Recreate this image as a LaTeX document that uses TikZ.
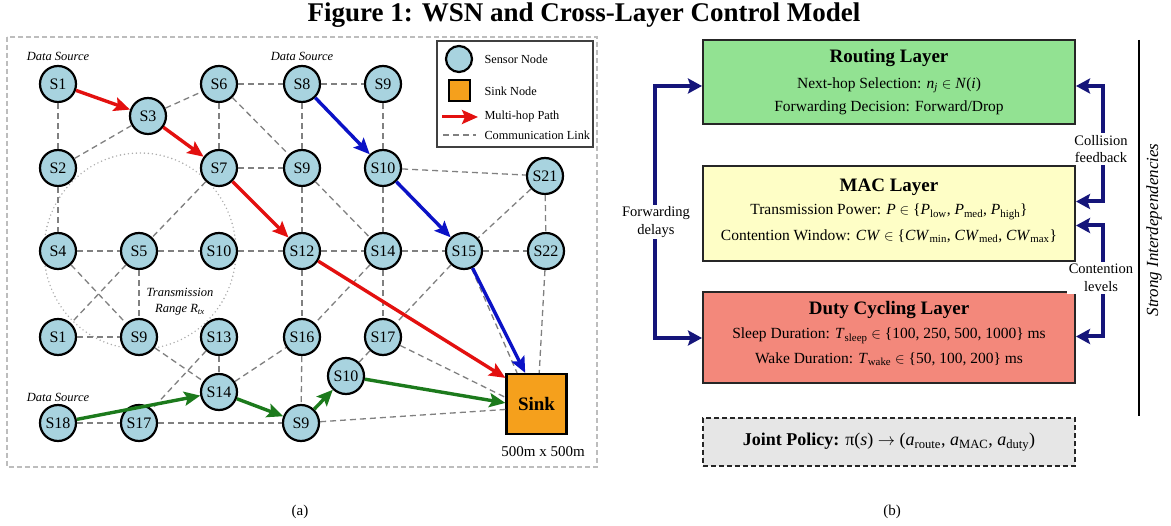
\documentclass[tikz,border=0pt]{standalone}
\usepackage{fontspec}
\setmainfont{Liberation Serif}
\usetikzlibrary{arrows.meta,calc}

\definecolor{sensorblue}{HTML}{A8D3DF}
\definecolor{sinkorange}{HTML}{F5A01C}
\definecolor{linkgray}{HTML}{808080}
\definecolor{pathred}{HTML}{E3100F}
\definecolor{pathblue}{HTML}{0B12C6}
\definecolor{pathgreen}{HTML}{1C7A1C}
\definecolor{routegreen}{HTML}{92E292}
\definecolor{macyellow}{HTML}{FEFEC6}
\definecolor{dutysalmon}{HTML}{F3887B}
\definecolor{policygray}{HTML}{E6E6E6}
\definecolor{feedbacknavy}{HTML}{15157A}
\definecolor{framegray}{HTML}{BDBDBD}
\definecolor{rangegray}{HTML}{ABABAB}

\newcommand{\fsz}[2]{\fontsize{#1}{#2}\selectfont}
\newcommand{\sbs}[1]{\textsubscript{#1}}

\tikzset{
  sensor/.style={circle, draw=black, line width=2.2pt, fill=sensorblue,
    minimum size=36pt, inner sep=0pt, font=\fsz{16}{18}},
  sinkbox/.style={rectangle, draw=black, line width=2.2pt, fill=sinkorange,
    minimum size=60pt, inner sep=0pt, font=\fsz{19}{22}\bfseries},
  link/.style={draw=linkgray, line width=1.3pt, dash pattern=on 6pt off 4pt},
  hop/.style={line width=3.4pt, -{Stealth[length=16pt,width=14pt,inset=3pt]}},
  redhop/.style={hop, draw=pathred, fill=pathred},
  bluehop/.style={hop, draw=pathblue, fill=pathblue},
  greenhop/.style={hop, draw=pathgreen, fill=pathgreen},
  srclabel/.style={font=\fsz{12.5}{14}\itshape},
  layerbox/.style={rectangle, draw=black!85, line width=2pt,
    minimum width=372pt, inner sep=0pt},
  layertitle/.style={font=\fsz{19}{22}\bfseries},
  layertext/.style={font=\fsz{15.5}{18}},
  feedback/.style={draw=feedbacknavy, line width=4pt,
    {Stealth[length=14pt,width=15pt,inset=2.5pt]}-{Stealth[length=14pt,width=15pt,inset=2.5pt]}},
  fblabel/.style={fill=white, align=center, inner sep=2pt, font=\fsz{14.5}{17.5}},
  legendtext/.style={anchor=west, font=\fsz{12.3}{14}},
}

\begin{document}
\begin{tikzpicture}[x=1pt, y=-1pt]
\useasboundingbox (0,0) rectangle (1171,526);
\fill[white] (0,0) rectangle (1171,526);

% heading
\node[font=\fsz{27}{31}\bfseries] (heading) at (584,15) {Figure 1: WSN and Cross-Layer Control Model};

% ---------------- (a) network ----------------
\draw[framegray, line width=1.2pt, dash pattern=on 5pt off 3pt] (7,37) rectangle (597,467);

% transmission range of S5
\draw[rangegray, line width=1.6pt, line cap=round, dash pattern=on 0pt off 4pt]
  (140,251) ellipse [x radius=96pt, y radius=98pt];
\node[font=\fsz{12.5}{16}\itshape, align=center] (range) at (180,302)
  {Transmission\\Range \textit{R}\textsubscript{tx}};

% sensor nodes
\node[sensor] (s1)  at (58,84)   {S1};
\node[sensor] (s3)  at (148,116) {S3};
\node[sensor] (s6)  at (219,84)  {S6};
\node[sensor] (s8)  at (302,84)  {S8};
\node[sensor] (s9a) at (383,84)  {S9};
\node[sensor] (s2)  at (58,168)  {S2};
\node[sensor] (s7)  at (219,168) {S7};
\node[sensor] (s9b) at (302,168) {S9};
\node[sensor] (s10a) at (383,168) {S10};
\node[sensor] (s21) at (545,176) {S21};
\node[sensor] (s4)  at (58,251)  {S4};
\node[sensor] (s5)  at (139,251) {S5};
\node[sensor] (s10b) at (219,251) {S10};
\node[sensor] (s12) at (302,251) {S12};
\node[sensor] (s14a) at (383,251) {S14};
\node[sensor] (s15) at (464,251) {S15};
\node[sensor] (s22) at (546,251) {S22};
\node[sensor] (s1b) at (58,337)  {S1};
\node[sensor] (s9c) at (139,337) {S9};
\node[sensor] (s13) at (219,337) {S13};
\node[sensor] (s16) at (302,337) {S16};
\node[sensor] (s17a) at (383,337) {S17};
\node[sensor] (s14b) at (219,392) {S14};
\node[sensor] (s10c) at (346,376) {S10};
\node[sensor] (s18) at (58,423)  {S18};
\node[sensor] (s17b) at (139,423) {S17};
\node[sensor] (s9d) at (301,423) {S9};
\node[sinkbox] (sink) at (536.5,404) {Sink};

\node[srclabel] (src1) at (58,56)  {Data Source};
\node[srclabel] (src2) at (302,56) {Data Source};
\node[srclabel] (src3) at (58,397) {Data Source};
\node[font=\fsz{15}{18}] (area) at (543,452) {500m x 500m};

% communication links
\foreach \a/\b in {s1/s2, s2/s3, s3/s6, s6/s8, s6/s7, s6/s9b, s8/s9a, s8/s9b,
    s9a/s10a, s10a/s21, s7/s9b, s2/s4, s7/s5, s9b/s12, s9b/s14a, s10a/s14a,
    s21/s15, s21/s22, s4/s5, s5/s10b, s10b/s12, s12/s14a, s14a/s15, s15/s22,
    s4/s9c, s5/s1b, s5/s9c, s12/s16, s14a/s16, s14a/s17a, s15/s17a,
    s1b/s9c, s9c/s14b, s13/s14b, s13/s17b, s14b/s16, s16/s9d, s17a/s10c,
    s18/s17b, s17b/s9d}
  \draw[link] (\a) -- (\b);
\draw[link] (s15) -- (sink.122);
\draw[link] (s22) -- (sink.85);
\draw[link] (s17a) -- (sink.168);
\draw[link] (s9d) -- (sink.190);

% multi-hop paths
\draw[redhop] (s1) -- (s3);
\draw[redhop] (s3) -- (s7);
\draw[redhop] (s7) -- (s12);
\draw[redhop] (s12) -- (sink.140);
\draw[bluehop] (s8) -- (s10a);
\draw[bluehop] (s10a) -- (s15);
\draw[bluehop] (s15) -- (sink.110);
\draw[greenhop] (s18) -- (s14b);
\draw[greenhop] (s14b) -- (s9d);
\draw[greenhop] (s9d) -- (s10c);
\draw[greenhop] (s10c) -- (sink.178);

% legend
\draw[black!75, line width=1.2pt, fill=white] (437,41) rectangle (593,147);
\node[sensor, minimum size=26pt] (lgsensor) at (459,59) {};
\node[legendtext] (lgsensortext) at (481,59) {Sensor Node};
\node[draw=black, line width=2pt, fill=sinkorange, minimum size=21pt, inner sep=0pt] (lgsink) at (459,91) {};
\node[legendtext] (lgsinktext) at (481,91) {Sink Node};
\coordinate (lgpathA) at (442,117);
\coordinate (lgpathB) at (478,117);
\draw[redhop, line width=3pt] (lgpathA) -- (lgpathB);
\node[legendtext] (lgpathtext) at (481,117) {Multi-hop Path};
\coordinate (lglinkA) at (443,135);
\coordinate (lglinkB) at (476,135);
\draw[link] (lglinkA) -- (lglinkB);
\node[legendtext] (lglinktext) at (481,135) {Communication Link};

\node[font=\fsz{15}{18}] (capa) at (300,512) {(a)};

% ---------------- (b) cross-layer model ----------------
\node[layerbox, fill=routegreen, minimum height=84pt] (routing) at (889,82) {};
\node[layertitle] (routingtitle) at (889,58) {Routing Layer};
\node[layertext] (routingA) at (889,85) {Next-hop Selection: \textit{n}\textsubscript{\textit{j}} $\in$ \textit{N}(\textit{i})};
\node[layertext] (routingB) at (889,108) {Forwarding Decision: Forward/Drop};

\node[layerbox, fill=macyellow, minimum height=95pt] (mac) at (889,213.5) {};
\node[layertitle] (mactitle) at (889,187) {MAC Layer};
\node[layertext] (macA) at (889,212) {Transmission Power: \textit{P} $\in$ \{\textit{P}\sbs{low}, \textit{P}\sbs{med}, \textit{P}\sbs{high}\}};
\node[layertext] (macB) at (889,236) {Contention Window: \textit{CW} $\in$ \{\textit{CW}\sbs{min}, \textit{CW}\sbs{med}, \textit{CW}\sbs{max}\}};

\node[layerbox, fill=dutysalmon, minimum height=91pt] (duty) at (889,337.5) {};
\node[layertitle] (dutytitle) at (889,310) {Duty Cycling Layer};
\node[layertext] (dutyA) at (889,336) {Sleep Duration: \textit{T}\sbs{sleep} $\in$ \{100, 250, 500, 1000\} ms};
\node[layertext] (dutyB) at (889,359) {Wake Duration: \textit{T}\sbs{wake} $\in$ \{50, 100, 200\} ms};

\node[rectangle, draw=black!85, line width=1.6pt, dash pattern=on 5pt off 3pt,
  fill=policygray, minimum width=372pt, minimum height=48pt] (policy) at (889,442)
  {\fsz{18}{21}\textbf{Joint Policy:} π(\textit{s}) $\rightarrow$ (\textit{a}\sbs{route}, \textit{a}\sbs{MAC}, \textit{a}\sbs{duty})};

% feedback loops between layers
\draw[feedback] ([yshift=-4pt]routing.west) -- ++(-47,0) |- ([yshift=-0.5pt]duty.west);
\draw[feedback] ([yshift=-4pt]routing.east) -- ++(27,0) |- ([yshift=12pt]mac.east);
\draw[feedback] ([yshift=-12pt]mac.east) -- ++(27,0) |- ([yshift=1pt]duty.east);
\node[fblabel] (fwdlabel) at (656,222) {Forwarding\\delays};
\node[fblabel] (colllabel) at (1101,149) {Collision\\feedback};
\node[fblabel] (contlabel) at (1101,278) {Contention\\levels};

% coupling bar
\coordinate (barTop) at (1139,40);
\coordinate (barBottom) at (1139,416);
\draw[black, line width=1.5pt] (barTop) -- (barBottom);
\node[rotate=90, font=\fsz{17}{20}\itshape] (strong) at (1154,230) {Strong Interdependencies};

\node[font=\fsz{15}{18}] (capb) at (892,512) {(b)};
\end{tikzpicture}
\end{document}
